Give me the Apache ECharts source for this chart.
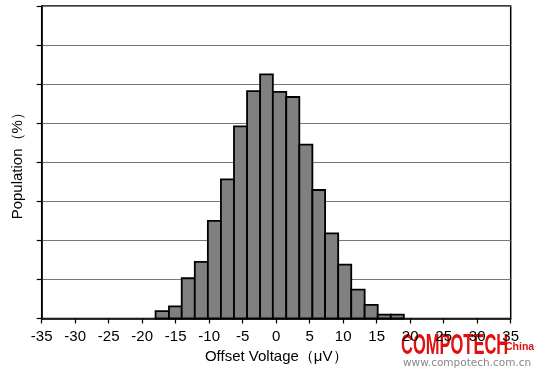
<!DOCTYPE html>
<html>
<head>
<meta charset="utf-8">
<script src="https://cdn.jsdelivr.net/npm/echarts@6/dist/echarts.min.js"></script>
<style>html,body{margin:0;padding:0;background:#fff;}#c{width:540px;height:371px;}</style>
</head>
<body>
<div id="c"></div>
<script>
// Bin edges (µV)
var binEdges = [-18.0, -16.0, -14.1, -12.15, -10.2, -8.25, -6.3, -4.35, -2.4, -0.5, 1.5, 3.45, 5.4, 7.3, 9.25, 11.2, 13.2, 15.15, 17.1, 19.05];
// Population per bin (%)
var population = [0.38, 0.62, 2.06, 2.9, 5.0, 7.12, 9.84, 11.64, 12.5, 11.6, 11.34, 8.9, 6.58, 4.36, 2.76, 1.48, 0.7, 0.2, 0.2];
var xTicks = {min: -35, max: 35, interval: 5};
var yTicks = {min: 0, max: 16, interval: 2};
var xName = 'Offset Voltage（μV）';
var yName = 'Population（%）';

var data = population.map(function (v, i) { return [binEdges[i], binEdges[i + 1], v]; });

var chart = echarts.init(document.getElementById('c'), null, {renderer: 'canvas'});
var font = 'Liberation Sans, Arial, sans-serif';
chart.setOption({
  animation: false,
  grid: {left: 41.7, right: 29.3, top: 6, bottom: 52.5, show: true, borderColor: '#000', borderWidth: 1.5, containLabel: false},
  xAxis: {
    type: 'value', min: xTicks.min, max: xTicks.max, interval: xTicks.interval,
    name: xName, nameLocation: 'middle', nameGap: 31,
    nameTextStyle: {fontFamily: font, fontSize: 15, color: '#000'},
    axisLine: {onZero: false, lineStyle: {color: '#000', width: 1.5}},
    axisTick: {show: true, inside: false, length: 5, lineStyle: {color: '#000', width: 1.2}},
    axisLabel: {fontFamily: font, fontSize: 15, color: '#000', margin: 11},
    splitLine: {show: false}
  },
  yAxis: {
    type: 'value', min: yTicks.min, max: yTicks.max, interval: yTicks.interval,
    name: yName, nameLocation: 'middle', nameGap: 16, nameRotate: 90,
    nameTextStyle: {fontFamily: font, fontSize: 15, color: '#000'},
    axisLine: {show: true, onZero: false, lineStyle: {color: '#000', width: 1.5}},
    axisTick: {show: true, inside: false, length: 5, lineStyle: {color: '#000', width: 1.2}},
    axisLabel: {show: false},
    splitLine: {show: true, lineStyle: {color: '#777', width: 1}}
  },
  series: [{
    type: 'custom',
    data: data,
    encode: {x: [0, 1], y: 2},
    renderItem: function (params, api) {
      var p0 = api.coord([api.value(0), 0]);
      var p1 = api.coord([api.value(1), api.value(2)]);
      return {
        type: 'rect',
        shape: {x: p0[0], y: p1[1], width: p1[0] - p0[0], height: p0[1] - p1[1]},
        style: {fill: '#808080', stroke: '#000', lineWidth: 1.8}
      };
    }
  }],
  graphic: [
    {type: 'text', left: 401, top: 331, scaleX: 0.55, style: {text: 'COMPOTECH', fontFamily: 'Liberation Sans, sans-serif', fontWeight: 'bold', fontSize: 30, fill: '#e01010'}},
    {type: 'text', left: 505, top: 342, style: {text: 'China', fontFamily: font, fontWeight: 'bold', fontSize: 10.5, fill: '#e01010'}},
    {type: 'text', left: 403, top: 358, style: {text: 'www.compotech.com.cn', fontFamily: 'DejaVu Sans, sans-serif', fontSize: 10.5, fill: '#888'}}
  ]
});
</script>
</body>
</html>
